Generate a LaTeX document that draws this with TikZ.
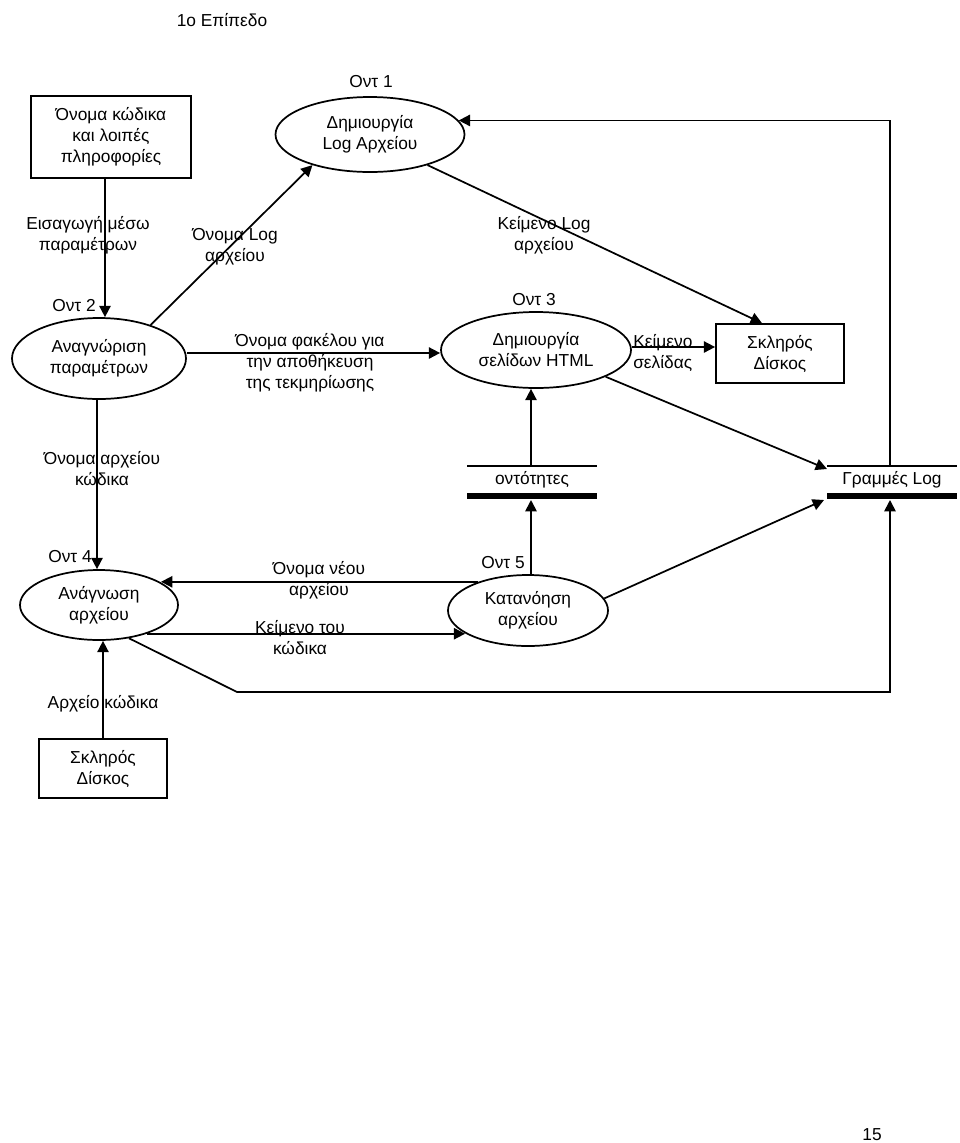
\documentclass[tikz,border=0pt]{standalone}
\usepackage{fontspec}
\setmainfont{Liberation Sans}
\usetikzlibrary{arrows.meta,shapes.geometric,calc}
\begin{document}
\begin{tikzpicture}[x=0.75pt,y=-0.75pt,
  every node/.style={font=\fontsize{13pt}{15.75pt}\selectfont, inner sep=0pt, align=center},
  proc/.style={draw, ellipse, line width=1.3pt, inner sep=0pt},
  box/.style={draw, rectangle, line width=1.3pt, minimum width=96pt, minimum height=44.25pt},
  arr/.style={line width=1.3pt, -{Triangle[length=8.5pt,width=8.5pt]}},
  thinline/.style={line width=1.1pt},
  thickline/.style={line width=4.5pt}
]
\useasboundingbox (0,0) rectangle (960,1143);

% title and page number
\node (title) at (222,20) {1ο Επίπεδο};
\node (page) at (872,1135) {15};

% boxes
\node[box, minimum width=120pt, minimum height=61.5pt] (B1) at (111,137) {Όνομα κώδικα\\και λοιπές\\πληροφορίες};
\node[box] (B2) at (780,353.5) {Σκληρός\\Δίσκος};
\node[box] (B3) at (103,768.5) {Σκληρός\\Δίσκος};

% processes
\node[proc, minimum width=141.75pt, minimum height=56.25pt] (O1) at (370,134.5) {Δημιουργία\\Log Αρχείου};
\node[proc, minimum width=130.5pt, minimum height=60.75pt] (O2) at (99,358.5) {Αναγνώριση\\παραμέτρων};
\node[proc, minimum width=142.5pt, minimum height=57pt] (O3) at (536,350) {Δημιουργία\\σελίδων HTML};
\node[proc, minimum width=118.5pt, minimum height=52.5pt] (O4) at (99,605) {Ανάγνωση\\αρχείου};
\node[proc, minimum width=120pt, minimum height=53.25pt] (O5) at (528,610.5) {Κατανόηση\\αρχείου};

% process labels
\node (L1) at (371,82) {Οντ 1};
\node (L2) at (74,306) {Οντ 2};
\node (L3) at (534,300) {Οντ 3};
\node (L4) at (70,557) {Οντ 4};
\node (L5) at (503,563) {Οντ 5};

% data stores
\draw[thinline] (467,466) -- (597,466);
\draw[thickline] (467,496) -- (597,496);
\node (S1) at (532,480) {οντότητες};
\draw[thinline] (827,466) -- (957,466);
\draw[thickline] (827,496) -- (957,496);
\node (GL) at (892,480) {Γραμμές Log};

\coordinate (s1top) at (531,466);
\coordinate (s1bot) at (531,500);
\coordinate (glTop) at (890,466);
\coordinate (glA) at (827,469);
\coordinate (glB) at (824,500);
\coordinate (glC) at (890,500);
\coordinate (cb) at (237,692);

% connectors
\draw[arr] ([xshift=-4.5pt]B1.south) -- ([xshift=4.5pt]O2.north);
\draw[arr] (O2.33) -- (O1.208);
\draw[arr] ($(O2.east)+(0,-5.5)$) -- ($(O3.west)+(0,3)$);
\draw[arr] (O1.-28.5) -- ([xshift=-13.5pt]B2.north);
\draw[arr] ($(O3.east)+(0,-3)$) -- ($(B2.west)+(0,-6.5)$);
\draw[arr] (O3.-21.5) -- (glA);
\draw[arr] (glTop) |- (O1.9);
\draw[arr] (s1top) -- (s1top |- O3.south);
\draw[arr] (s1bot |- O5.north) -- (s1bot);
\draw[arr] (O5.9) -- (glB);
\draw[arr] ([xshift=-1.5pt]O2.south) -- ([xshift=-1.5pt]O4.north);
\draw[arr] (O5.150) -- (O5.150 -| O4.20);
\draw[arr] (O4.-31) -- (O4.-31 -| O5.200);
\draw[arr] (O4.-48) -- (cb) -| (glC);
\draw[arr] (B3.north) -- (B3.north |- O4.south);

% flow labels
\node (t1) at (88,235.5) {Εισαγωγή μέσω\\παραμέτρων};
\node (t2) at (235,247) {Όνομα Log\\αρχείου};
\node (t3) at (310,362.5) {Όνομα φακέλου για\\την αποθήκευση\\της τεκμηρίωσης};
\node (t4) at (544,235.5) {Κείμενο Log\\αρχείου};
\node[align=left, anchor=west] (t5) at (633,352.5) {Κείμενο\\σελίδας};
\node (t6) at (102,468.5) {Όνομα αρχείου\\κώδικα};
\node (t7) at (319,580.5) {Όνομα νέου\\αρχείου};
\node (t8) at (300,638) {Κείμενο του\\κώδικα};
\node (t9) at (103,704) {Αρχείο κώδικα};
\end{tikzpicture}
\end{document}
